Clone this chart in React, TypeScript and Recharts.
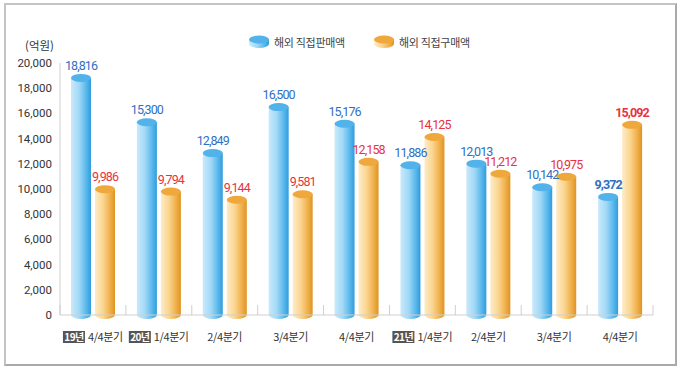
import { Bar, BarChart, CartesianGrid, Label, LabelList, Legend, XAxis, YAxis } from "recharts";

// 해외 직접판매/직접구매 분기별 추이. Cylinder bars, value labels on top.

const W = 680;
const H = 371;
const M = { top: 63, right: 27, bottom: 26, left: 0 };
const Y_W = 60;
const BAND = (W - M.left - M.right - Y_W) / 9;

const years = ["19년", "20년", "", "", "", "21년", "", "", ""];
const quarters = ["4/4분기", "1/4분기", "2/4분기", "3/4분기", "4/4분기", "1/4분기", "2/4분기", "3/4분기", "4/4분기"];
const sales = [18816, 15300, 12849, 16500, 15176, 11886, 12013, 10142, 9372];
const purchases = [9986, 9794, 9144, 9581, 12158, 14125, 11212, 10975, 15092];
const yTicks = [0, 2000, 4000, 6000, 8000, 10000, 12000, 14000, 16000, 18000, 20000];

const data = quarters.map((q, i) => ({ idx: i, sales: sales[i], purchases: purchases[i] }));

const KR = "'Noto Sans CJK KR', 'Noto Sans', sans-serif";
const NUM = "Roboto, sans-serif";

const COLORS = {
  blue: { grad: "url(#gBlue)", top: "#52b2ea", label: "#2f70c4" },
  orange: { grad: "url(#gOrange)", top: "#efa83c", label: "#e8323e" },
};

function Cylinder(props: any) {
  const { x, y, width, height, kind } = props;
  if (width == null || height == null) return null;
  const c = COLORS[kind as "blue" | "orange"];
  const rx = width / 2;
  const ry = 4;
  const b = y + height;
  return (
    <g>
      <path
        d={`M${x},${y} L${x},${b} A${rx},${ry} 0 0 0 ${x + width},${b} L${x + width},${y} Z`}
        fill={c.grad}
      />
      <ellipse cx={x + rx} cy={y} rx={rx} ry={ry} fill={c.top} />
    </g>
  );
}

function ValueLabel(props: any) {
  const { x, y, width, value, index, kind } = props;
  const last = index === sales.length - 1;
  return (
    <text
      x={x + width / 2}
      y={y - 8}
      textAnchor="middle"
      fontSize={12.5}
      fontFamily={NUM}
      fontWeight={last ? 700 : 400}
      letterSpacing={-0.9}
      fill={COLORS[kind as "blue" | "orange"].label}
    >
      {Number(value).toLocaleString("en-US")}
    </text>
  );
}

function QuarterTick(props: any) {
  const { x, y, payload, index } = props;
  const i = payload?.value ?? index;
  const yr = years[i];
  const isLast = i === quarters.length - 1;
  return (
    <g>
      <line x1={x - BAND / 2} x2={x - BAND / 2} y1={y - 10} y2={y} stroke="#cfcfcf" />
      {isLast && <line x1={x + BAND / 2} x2={x + BAND / 2} y1={y - 10} y2={y} stroke="#cfcfcf" />}
      {yr ? (
        <g fontFamily={KR}>
          <rect x={x - 30} y={y + 16} width={22} height={12} fill="#555" />
          <text x={x - 19} y={y + 26} textAnchor="middle" fill="#fff" fontSize={10} fontWeight={700} letterSpacing={-0.6}>
            {yr}
          </text>
          <text x={x - 5} y={y + 26} fill="#333" fontSize={11} letterSpacing={-0.4}>
            {quarters[i]}
          </text>
        </g>
      ) : (
        <text x={x} y={y + 26} textAnchor="middle" fontFamily={KR} fontSize={11} fill="#333" letterSpacing={-0.4}>
          {quarters[i]}
        </text>
      )}
    </g>
  );
}

function LegendIcon({ kind }: { kind: "blue" | "orange" }) {
  const c = COLORS[kind];
  return (
    <svg width={22} height={14} style={{ display: "block" }}>
      <path d="M1,4 L1,9 A10,4 0 0 0 21,9 L21,4 Z" fill={c.grad} />
      <ellipse cx={11} cy={4.5} rx={10} ry={4} fill={c.top} />
    </svg>
  );
}

function LegendBox() {
  const item = (kind: "blue" | "orange", text: string) => (
    <div style={{ display: "flex", alignItems: "center", gap: 4, marginRight: 28 }}>
      <LegendIcon kind={kind} />
      <span style={{ fontFamily: KR, fontSize: 11, color: "#444", letterSpacing: -0.3 }}>{text}</span>
    </div>
  );
  return (
    <div style={{ display: "flex" }}>
      {item("blue", "해외 직접판매액")}
      {item("orange", "해외 직접구매액")}
    </div>
  );
}

export default function App() {
  return (
    <div style={{ position: "absolute", left: 0, top: 0, width: W, height: H, background: "#fff" }}>
      <div
        style={{
          position: "absolute",
          left: 4,
          top: 3,
          width: 669,
          height: 359,
          border: "2px solid #c4c4c4",
          borderRightColor: "#a9a9a9",
          borderBottomColor: "#a9a9a9",
        }}
      />
      <div style={{ position: "absolute", left: 0, top: 0 }}>
        <BarChart width={W} height={H} data={data} margin={M} barSize={20} barGap={4}>
          <defs>
            <linearGradient id="gBlue" x1="0" x2="1" y1="0" y2="0">
              <stop offset="0%" stopColor="#c9e9fb" />
              <stop offset="40%" stopColor="#a2d9f7" />
              <stop offset="75%" stopColor="#5bb9ec" />
              <stop offset="100%" stopColor="#2f9cdd" />
            </linearGradient>
            <linearGradient id="gOrange" x1="0" x2="1" y1="0" y2="0">
              <stop offset="0%" stopColor="#fdecc8" />
              <stop offset="40%" stopColor="#fbd590" />
              <stop offset="75%" stopColor="#f0b04c" />
              <stop offset="100%" stopColor="#df9420" />
            </linearGradient>
          </defs>
          <CartesianGrid vertical={false} horizontal={false} />
          <XAxis
            dataKey="idx"
            type="category"
            height={30}
            axisLine={{ stroke: "#cfcfcf" }}
            tickLine={false}
            tickSize={0}
            tickMargin={0}
            interval={0}
            tick={<QuarterTick />}
          />
          <YAxis
            width={Y_W}
            domain={[0, 20000]}
            ticks={yTicks}
            interval={0}
            axisLine={{ stroke: "#cfcfcf" }}
            tickLine={false}
            tickFormatter={(v: number) => v.toLocaleString("en-US")}
            tick={{ fontSize: 11.5, fill: "#333", fontFamily: "Roboto, sans-serif" }}
          >
            <Label
              content={() => (
                <text x={54} y={50} textAnchor="end" fontSize={11.5} fill="#333" fontFamily={KR}>
                  (억원)
                </text>
              )}
            />
          </YAxis>
          <Legend
            layout="horizontal"
            verticalAlign="middle"
            wrapperStyle={{ top: 34, left: 248, width: "auto" }}
            content={() => <LegendBox />}
          />
          <Bar dataKey="sales" name="해외 직접판매액" shape={(p: any) => <Cylinder {...p} kind="blue" />} isAnimationActive={false}>
            <LabelList dataKey="sales" content={(p: any) => <ValueLabel {...p} kind="blue" />} />
          </Bar>
          <Bar
            dataKey="purchases"
            name="해외 직접구매액"
            shape={(p: any) => <Cylinder {...p} kind="orange" />}
            isAnimationActive={false}
          >
            <LabelList dataKey="purchases" content={(p: any) => <ValueLabel {...p} kind="orange" />} />
          </Bar>
        </BarChart>
      </div>
    </div>
  );
}
